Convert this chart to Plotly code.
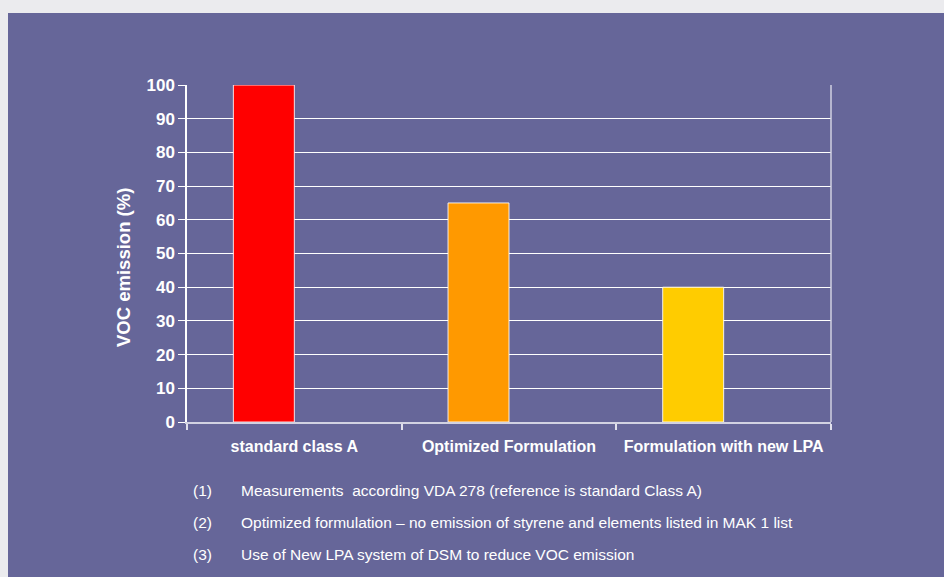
import plotly.graph_objects as go

categories = ["standard class A", "Optimized Formulation", "Formulation with new LPA"]
values = [100, 65, 40]
bar_colors = ["#FF0000", "#FF9900", "#FFCC00"]
y_ticks = [0, 10, 20, 30, 40, 50, 60, 70, 80, 90, 100]
y_title = "VOC emission (%)"
notes_num = ["(1)", "(2)", "(3)"]
notes_text = [
    "Measurements  according VDA 278 (reference is standard Class A)",
    "Optimized formulation \u2013 no emission of styrene and elements listed in MAK 1 list",
    "Use of New LPA system of DSM to reduce VOC emission",
]

FONT = "Liberation Sans, Arial, Helvetica, sans-serif"
W, H = 944, 577
L, R, T, B = 187, 113, 85, 155
pw, ph = W - L - R, H - T - B

def px(x):
    return (x - L) / pw

def py(y):
    return (H - B - y) / ph

fig = go.Figure()
fig.add_trace(go.Bar(
    x=categories, y=values,
    marker=dict(color=bar_colors, line=dict(color="rgba(255,255,255,0.85)", width=1)),
    width=0.284, offset=-0.284,
    hoverinfo="x+y",
))

shapes = [
    dict(type="rect", xref="paper", yref="paper", x0=px(8), x1=px(W + 5), y0=py(H + 5), y1=py(13),
         fillcolor="#666699", line=dict(width=0), layer="below"),
    dict(type="line", xref="paper", yref="paper", x0=1, x1=1, y0=0, y1=1,
         line=dict(color="#d2d2e2", width=1.5)),
]

annotations = [
    dict(xref="paper", yref="paper", x=px(123), y=py(268), text=y_title, textangle=-90,
         showarrow=False, xanchor="center", yanchor="middle",
         font=dict(family=FONT, size=18.5, color="white", weight="bold")),
]
for i, (n, t) in enumerate(zip(notes_num, notes_text)):
    yc = 490 + 32 * i
    annotations.append(dict(xref="paper", yref="paper", x=px(191), y=py(yc), text=n,
                            showarrow=False, xanchor="left", yanchor="middle",
                            font=dict(family=FONT, size=15.5, color="white")))
    annotations.append(dict(xref="paper", yref="paper", x=px(239), y=py(yc), text=t,
                            showarrow=False, xanchor="left", yanchor="middle",
                            font=dict(family=FONT, size=15.5, color="white")))

fig.update_layout(
    width=W, height=H,
    margin=dict(l=L, r=R, t=T, b=B, pad=0),
    paper_bgcolor="#ebebee",
    plot_bgcolor="rgba(0,0,0,0)",
    showlegend=False,
    shapes=shapes,
    annotations=annotations,
    font=dict(family=FONT, color="white"),
    xaxis=dict(
        type="category", range=[-0.5, 2.5],
        showgrid=False, zeroline=False,
        showline=True, linecolor="#d2d2e2", linewidth=2,
        ticks="outside", tickson="boundaries", ticklen=6, tickcolor="#e0e0ec", tickwidth=1.5,
        tickangle=0, ticklabelstandoff=9,
        tickfont=dict(family=FONT, size=16, color="white", weight="bold"),
    ),
    yaxis=dict(
        range=[0, 100], tickvals=y_ticks,
        showgrid=True, gridcolor="white", gridwidth=1,
        zeroline=False,
        showline=True, linecolor="white", linewidth=1.5,
        ticks="outside", ticklen=7, tickcolor="white", tickwidth=1,
        tickfont=dict(family=FONT, size=17, color="white", weight="bold"),
    ),
)

fig.write_html("out.html")
